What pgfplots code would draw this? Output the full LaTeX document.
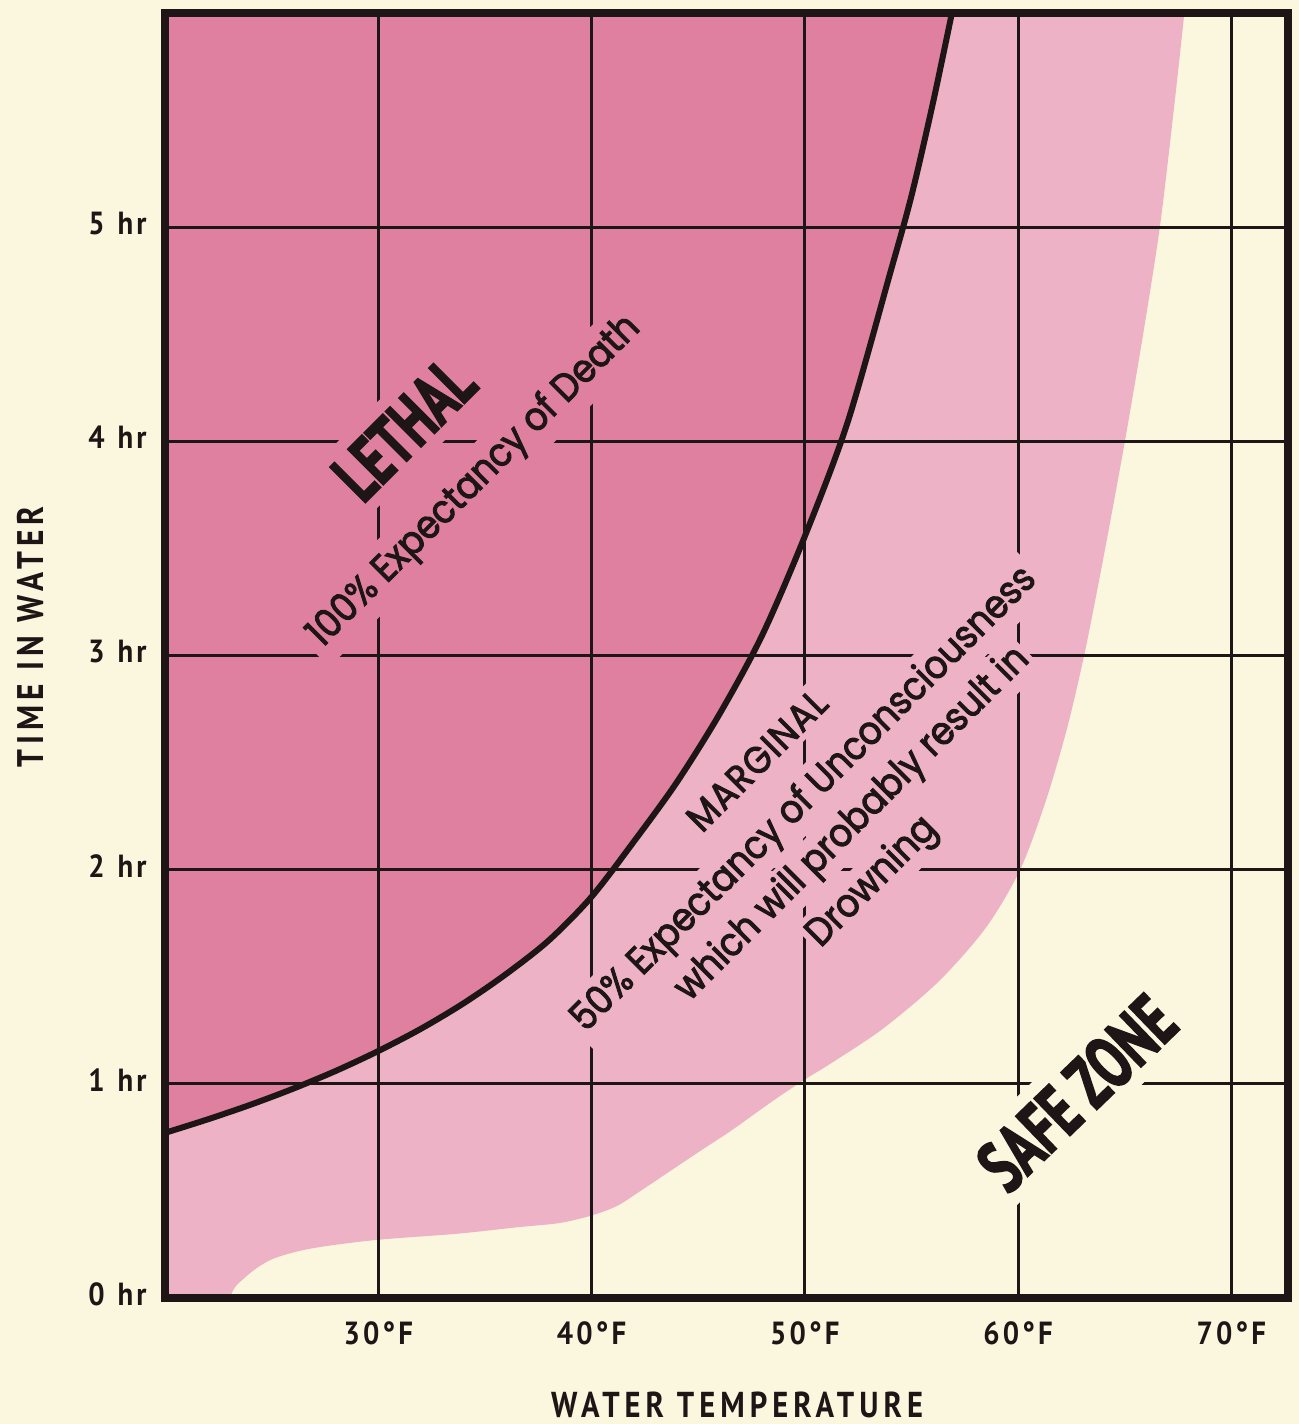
\documentclass[border=0pt]{standalone}
\usepackage{fontspec}
\usepackage{pgfplots}
\pgfplotsset{compat=1.18}
\setmainfont{PT Sans}
\newfontfamily\tickfont{PT Sans}[FakeStretch=0.9, LetterSpace=10]
\newfontfamily\labelfont{PT Sans}[FakeStretch=0.85, LetterSpace=14]
\newfontfamily\heavyfont{PT Sans}[FakeStretch=0.68, FakeBold=2]
\newfontfamily\bodyfont{Poppins}[FakeStretch=0.9, FakeBold=2.5]
\newfontfamily\capsfont{Poppins}[FakeStretch=0.9, FakeBold=2.5, LetterSpace=4]

\definecolor{cream}{HTML}{FAF7DE}
\definecolor{darkpink}{HTML}{DF80A0}
\definecolor{lightpink}{HTML}{EDB2C6}
\definecolor{ink}{HTML}{1E1616}

\begin{document}
\begin{tikzpicture}
\path[use as bounding box, fill=cream] (0,0) rectangle (649.5pt,712pt);
\begin{axis}[
    name=ax,
    at={(82.5pt,63pt)}, anchor=south west,
    scale only axis, width=561.5pt, height=642.5pt,
    xmin=20, xmax=72.66, ymin=0, ymax=6,
    axis line style={draw=none},
    major tick length=0pt,
    xtick={30,40,50,60,70},
    xticklabels={30°F,40°F,50°F,60°F,70°F},
    ytick={0,1,2,3,4,5},
    yticklabels={0\hspace{0.4em}hr,1\hspace{0.4em}hr,2\hspace{0.4em}hr,3\hspace{0.4em}hr,4\hspace{0.4em}hr,5\hspace{0.4em}hr},
    xticklabel style={font=\tickfont\bfseries\fontsize{16}{18}\selectfont, text=ink, anchor=base, inner sep=0pt, yshift=-23.5pt},
    yticklabel style={font=\tickfont\bfseries\fontsize{16}{18}\selectfont, text=ink, anchor=east, inner sep=0pt, xshift=-9pt, yshift=2pt},
]
% marginal zone (right edge of the light pink area)
\addplot[draw=none, fill=lightpink, smooth] coordinates {
    (19,-0.5) (22.9,-0.3) (23.06,0) (23.8,0.10) (25,0.18) (26.8,0.23) (29.8,0.27)
    (33.7,0.30) (36.5,0.33) (38.5,0.35) (40,0.385) (41.2,0.43) (42.3,0.50)
    (43.5,0.58) (45,0.68) (46.6,0.785) (48.5,0.92) (50,1.02) (51.3,1.10)
    (53.7,1.26) (56.3,1.48) (58.5,1.73) (60.1,2.0) (61.3,2.32) (62.3,2.66)
    (63.1,3.0) (63.8,3.35) (64.5,3.72) (65.1,4.05) (65.9,4.52) (66.65,5.0)
    (67.25,5.5) (67.8,6.0) (68.3,6.5) (19,6.5)
};
% lethal zone
\addplot[draw=none, fill=darkpink] coordinates {
    (20,0.771) (22,0.834) (24,0.902) (26,0.977) (28,1.060) (30,1.153) (32,1.257)
    (34,1.376) (36,1.513) (38,1.670) (40,1.873) (42,2.133) (44,2.408) (46,2.726)
    (48,3.094) (50,3.556) (52,4.086) (54,4.784) (55,5.145) (56,5.575) (56.9,6.0)
    (56.9,6.5) (19,6.5) (19,0.771)
};
% grid
\pgfplotsinvokeforeach{30,40,50,60,70}{
    \draw[ink, line width=1.5pt] (axis cs:#1,0) -- (axis cs:#1,6);
}
\pgfplotsinvokeforeach{1,2,3,4,5}{
    \draw[ink, line width=1.5pt] (axis cs:20,#1) -- (axis cs:72.66,#1);
}
% zone texts
\node[rotate=45, fill=darkpink, inner sep=6pt, text=ink, font=\heavyfont\bfseries\fontsize{36}{38}\selectfont] at (axis cs:31.2,4.06) {LETHAL};
\node[rotate=45, fill=darkpink, inner sep=4pt, text=ink, font=\bodyfont\fontsize{19.5}{22}\selectfont] at (axis cs:34.53,3.81) {100\% Expectancy of Death};
\node[rotate=45, fill=lightpink, inner sep=3pt, text=ink, font=\capsfont\fontsize{19}{22}\selectfont] at (axis cs:47.75,2.51) {MARGINAL};
\node[rotate=45, fill=lightpink, inner sep=3pt, text=ink, font=\bodyfont\fontsize{19.5}{22}\selectfont] at (axis cs:50.0,2.325) {50\% Expectancy of Unconsciousness};
\node[rotate=45, fill=lightpink, inner sep=2pt, text=ink, font=\bodyfont\fontsize{19.5}{22}\selectfont] at (axis cs:52.26,2.21) {which will probably result in};
\node[rotate=45, fill=lightpink, inner sep=2pt, text=ink, font=\bodyfont\fontsize{19.5}{22}\selectfont] at (axis cs:53.19,1.94) {Drowning};
\node[rotate=44, fill=cream, inner sep=6pt, text=ink, font=\heavyfont\bfseries\fontsize{37}{39}\selectfont] at (axis cs:62.76,0.957) {SAFE ZONE};
% lethal limit
\addplot[ink, line width=3pt, smooth] coordinates {
    (20,0.771) (22,0.834) (24,0.902) (26,0.977) (28,1.060) (30,1.153) (32,1.257)
    (34,1.376) (36,1.513) (38,1.670) (40,1.873) (42,2.133) (44,2.408) (46,2.726)
    (48,3.094) (50,3.556) (52,4.086) (54,4.784) (55,5.145) (56,5.575) (56.9,6.0)
};
\end{axis}
\draw[ink, line width=4pt, line join=miter] (ax.south west) rectangle (ax.north east);
\node[rotate=90, inner sep=0pt, text=ink, font=\labelfont\bfseries\fontsize{18.5}{20}\selectfont] at (15pt,393.5pt) {TIME IN WATER};
\node[inner sep=0pt, text=ink, font=\labelfont\bfseries\fontsize{18}{20}\selectfont] at (368.5pt,9.5pt) {WATER TEMPERATURE};
\end{tikzpicture}
\end{document}
